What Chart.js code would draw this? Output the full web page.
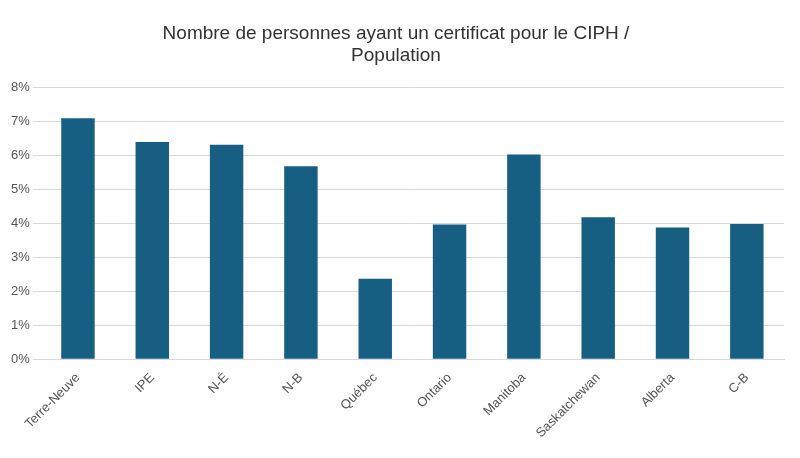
<!DOCTYPE html>
<html>
<head>
<meta charset="utf-8">
<script src="https://cdn.jsdelivr.net/npm/chart.js@4"></script>
<style>
  body { margin: 0; background: #fff; }
  #wrap { width: 800px; height: 458px; }
</style>
</head>
<body>
<div id="wrap"><canvas id="chart"></canvas></div>
<script>
const provinces = ["Terre-Neuve", "IPE", "N-É", "N-B", "Québec", "Ontario", "Manitoba", "Saskatchewan", "Alberta", "C-B"];
const shares = [7.1, 6.4, 6.32, 5.68, 2.37, 3.97, 6.03, 4.18, 3.88, 3.98];
const yTicks = [0, 1, 2, 3, 4, 5, 6, 7, 8];

new Chart(document.getElementById("chart"), {
    type: "bar",
    data: {
        labels: provinces,
        datasets: [{
            data: shares,
            backgroundColor: "#175f82",
            borderWidth: 0,
            barPercentage: 0.45,
            categoryPercentage: 1
        }]
    },
    options: {
        responsive: true,
        maintainAspectRatio: false,
        animation: false,
        layout: { padding: { left: 8, right: 16, top: 6, bottom: 14 } },
        plugins: {
            legend: { display: false },
            tooltip: { enabled: false },
            title: {
                display: true,
                text: ["Nombre de personnes ayant un certificat pour le CIPH /", "Population"],
                color: "#333",
                font: { family: "Liberation Sans", size: 19, weight: "normal" },
                padding: { top: 16, bottom: 20 },
                lineHeight: 1.45
            }
        },
        scales: {
            x: {
                grid: { display: false },
                border: { color: "#d9d9d9" },
                ticks: {
                    color: "#555",
                    font: { family: "Liberation Sans", size: 13 },
                    maxRotation: 45,
                    minRotation: 45
                }
            },
            y: {
                min: 0,
                max: 8,
                afterBuildTicks: (axis) => { axis.ticks = yTicks.map((v) => ({ value: v })); },
                grid: { color: "#d9d9d9" },
                border: { display: false },
                ticks: {
                    color: "#555",
                    font: { family: "Liberation Sans", size: 13 },
                    callback: (v) => v + "%"
                }
            }
        }
    }
});
</script>
</body>
</html>
